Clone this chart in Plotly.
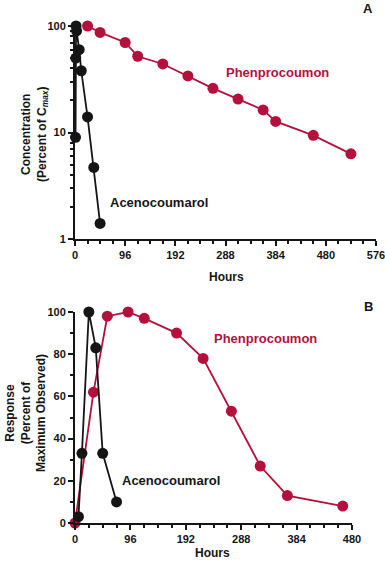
import plotly.graph_objects as go

# ---- Data ----
# Panel A: plasma concentration (percent of Cmax), log scale
aceno_a_hours = [1, 1.5, 2, 3, 8, 12, 24, 36, 48]
aceno_a_conc = [9, 50, 100, 90, 60, 38, 14, 4.7, 1.4]
phen_a_hours = [24, 48, 96, 120, 168, 216, 264, 312, 360, 384, 456, 528]
phen_a_conc = [100, 87, 70, 52, 44, 34, 26, 20.6, 16.3, 12.7, 9.4, 6.3]

# Panel B: response (percent of maximum observed)
aceno_b_hours = [6, 12, 24, 36, 48, 72]
aceno_b_resp = [3, 33, 100, 83, 33, 10]
phen_b_hours = [0, 32, 56, 92, 120, 176, 222, 271, 321, 368, 464]
phen_b_resp = [0, 62, 98, 100, 97, 90, 78, 53, 27, 13, 8]

x_ticks_a = [0, 96, 192, 288, 384, 480, 576]
x_ticks_b = [0, 96, 192, 288, 384, 480]
y_ticks_a = [1, 10, 100]
y_ticks_b = [0, 20, 40, 60, 80, 100]

RED = "#b5103c"
BLACK = "#151515"
FONT = "Arial, Liberation Sans, sans-serif"
W, H = 385, 565

def px(x):
    return x / W

def py(y):
    return 1 - y / H

fig = go.Figure()

mk = dict(size=11)
fig.add_trace(go.Scatter(x=aceno_a_hours, y=aceno_a_conc, mode="lines+markers",
                         line=dict(color=BLACK, width=1.8), marker=dict(color=BLACK, **mk),
                         xaxis="x", yaxis="y", cliponaxis=False, showlegend=False))
fig.add_trace(go.Scatter(x=phen_a_hours, y=phen_a_conc, mode="lines+markers",
                         line=dict(color=RED, width=1.8), marker=dict(color=RED, **mk),
                         xaxis="x", yaxis="y", cliponaxis=False, showlegend=False))
fig.add_trace(go.Scatter(x=phen_b_hours, y=phen_b_resp, mode="lines+markers",
                         line=dict(color=RED, width=1.8), marker=dict(color=RED, **mk),
                         xaxis="x2", yaxis="y2", cliponaxis=False, showlegend=False))
fig.add_trace(go.Scatter(x=aceno_b_hours, y=aceno_b_resp, mode="lines+markers",
                         line=dict(color=BLACK, width=1.8), marker=dict(color=BLACK, **mk),
                         xaxis="x2", yaxis="y2", cliponaxis=False, showlegend=False))

tickfont = dict(family=FONT, size=11, color=BLACK)
axis_common = dict(showline=True, linecolor=BLACK, linewidth=2, ticks="outside",
                   ticklen=5, tickwidth=2, tickcolor=BLACK, showgrid=False,
                   zeroline=False, tickfont=tickfont, automargin=False,
                   ticklabeloverflow="allow")

fig.update_layout(
    width=W, height=H, margin=dict(l=0, r=0, t=0, b=0),
    paper_bgcolor="white", plot_bgcolor="white",
    font=dict(family=FONT, color=BLACK),
    xaxis=dict(domain=[px(75), px(376)], range=[0, 576], anchor="y",
               tickvals=x_ticks_a, ticktext=[f"<b>{v}</b>" for v in x_ticks_a],
               minor=dict(ticks="outside", ticklen=3, tickwidth=1.5, dtick=24, tickcolor=BLACK),
               **axis_common),
    yaxis=dict(domain=[py(239), py(26)], type="log", range=[0, 2], anchor="x",
               tickvals=y_ticks_a, ticktext=[f"<b>{v}</b>" for v in y_ticks_a],
               minor=dict(ticks="outside", ticklen=3, tickwidth=1.5, dtick="D1", tickcolor=BLACK),
               **axis_common),
    xaxis2=dict(domain=[px(75), px(352)], range=[0, 480], anchor="y2",
                tickvals=x_ticks_b, ticktext=[f"<b>{v}</b>" for v in x_ticks_b],
                minor=dict(ticks="outside", ticklen=3, tickwidth=1.5, dtick=24, tickcolor=BLACK),
                **axis_common),
    yaxis2=dict(domain=[py(523), py(312)], range=[0, 100], anchor="x2",
                tickvals=y_ticks_b, ticktext=[f"<b>{v}</b>" for v in y_ticks_b],
                minor=dict(ticks="outside", ticklen=3, tickwidth=1.5, dtick=10, tickcolor=BLACK),
                **axis_common),
)

def ann(text, x, y, size=12, color=BLACK, angle=0):
    fig.add_annotation(text=text, x=px(x), y=py(y), xref="paper", yref="paper",
                       showarrow=False, textangle=angle, xanchor="center", yanchor="middle",
                       font=dict(family=FONT, size=size, color=color))

ann("<b>A</b>", 368, 8, size=13)
ann("<b>B</b>", 368, 306, size=13)
ann("<b>Hours</b>", 226, 277, size=12)
ann("<b>Hours</b>", 213, 553, size=12)
ann("<b>Phenprocoumon</b>", 277, 72, size=13, color=RED)
ann("<b>Acenocoumarol</b>", 159, 202, size=13)
ann("<b>Phenprocoumon</b>", 265, 338, size=13, color=RED)
ann("<b>Acenocoumarol</b>", 171, 481, size=13)
ann("<b>Concentration<br>(Percent of C<sub><i>max</i></sub>)</b>", 34, 135, size=12, angle=-90)
ann("<b>Response<br>(Percent of<br>Maximum Observed)</b>", 25, 413, size=12, angle=-90)

fig.write_html("out.html", config={"displayModeBar": False},
               post_script="document.body.style.margin='0';document.body.style.overflow='hidden';")
